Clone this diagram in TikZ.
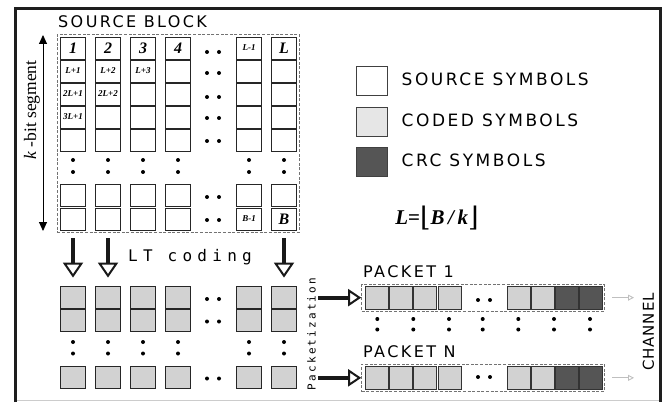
\documentclass[tikz,border=0pt]{standalone}
\usepackage{fontspec}
\newfontfamily\capsfont[LetterSpace=15]{DejaVu Sans}
\newfontfamily\chanfont[LetterSpace=6]{DejaVu Sans}
\newfontfamily\ltfont[LetterSpace=33]{DejaVu Sans Mono}
\newfontfamily\pkfont[LetterSpace=20]{DejaVu Sans Mono}
\newfontfamily\tnr{Liberation Serif}
\newfontfamily\brk{DejaVu Serif}
\usetikzlibrary{arrows.meta}
\definecolor{codedgray}{HTML}{D2D2D2}
\definecolor{leggray}{HTML}{E6E6E6}
\definecolor{crcgray}{HTML}{555555}
\definecolor{framecol}{HTML}{1E1E1E}
\begin{document}
\begin{tikzpicture}[x=1pt,y=-1pt,
  cellS/.style={draw=black!85, line width=0.8pt, fill=white, minimum width=24.5pt, minimum height=22pt, inner sep=0pt},
  cellC/.style={cellS, fill=codedgray},
  cellP/.style={draw=black!80, line width=0.8pt, fill=codedgray, minimum width=23pt, minimum height=23pt, inner sep=0pt},
  cellK/.style={cellP, fill=crcgray},
  dbox/.style={draw=black!55, dashed, dash pattern=on 3pt off 1.6pt, line width=1pt, inner sep=0pt},
  legbox/.style={draw=black!75, line width=0.7pt, minimum width=30.5pt, minimum height=29pt, inner sep=0pt},
  biglab/.style={font=\tnr\bfseries\itshape\fontsize{16}{18}\selectfont, inner sep=0pt},
  smlab/.style={font=\tnr\bfseries\itshape\fontsize{9}{10}\selectfont, inner sep=0pt},
  caps/.style={font=\capsfont\fontsize{16}{19}\selectfont, inner sep=0pt},
  legtxt/.style={font=\capsfont\fontsize{17}{20}\selectfont, inner sep=0pt, anchor=west},
  bigarrow/.style={line width=3.3pt, draw=black!90, -{Triangle[open, length=15pt, width=20pt, line width=2pt]}},
  sidearrow/.style={line width=3.8pt, draw=black!90, -{Triangle[open, length=13pt, width=17pt, line width=2pt]}},
  grayarrow/.style={line width=0.9pt, draw=black!25, -{Triangle[open, length=6pt, width=6pt, line width=0.9pt]}},
  dot/.style={fill=black}
]
\useasboundingbox (0,0) rectangle (668,403);
% frame
\draw[line width=0.8pt, draw=black!20] (15,400.5) -- (660,400.5);
\draw[line width=3pt, draw=framecol] (15,402) -- (15,8.5) -- (660,8.5) -- (660,402);

% source block
\node[caps, anchor=west] (srctitle) at (58,22) {SOURCE BLOCK};
\node[dbox, minimum width=241.7pt, minimum height=198pt] (srcbox) at (178.15,133.3) {};
\foreach \x [count=\i] in {73,108,143,178,249,284} {
  \foreach \y [count=\j] in {48,71,94,117,140,195.5,219} {
    \node[cellS] (s-\i-\j) at (\x,\y) {};
  }
  \fill[dot] (\x,160) circle (2pt);
  \fill[dot] (\x,172) circle (2pt);
}
\foreach \y in {52,73,97,118,141,197,220} {
  \fill[dot] (207,\y) circle (2pt);
  \fill[dot] (219,\y) circle (2pt);
}
\node[biglab] at (s-1-1) {1};
\node[biglab] at (s-2-1) {2};
\node[biglab] at (s-3-1) {3};
\node[biglab] at (s-4-1) {4};
\node[smlab] at (s-5-1) {L-1};
\node[biglab] at (s-6-1) {L};
\node[smlab] at (s-1-2) {L+1};
\node[smlab] at (s-2-2) {L+2};
\node[smlab] at (s-3-2) {L+3};
\node[smlab] at (s-1-3) {2L+1};
\node[smlab] at (s-2-3) {2L+2};
\node[smlab] at (s-1-4) {3L+1};
\node[smlab] at (s-5-7) {B-1};
\node[biglab] at (s-6-7) {B};

% k-bit segment
\coordinate (ktop) at (43,35);
\coordinate (kbot) at (43,231);
\draw[line width=0.9pt, {Triangle[length=9pt, width=8pt]}-{Triangle[length=9pt, width=8pt]}] (ktop) -- (kbot);
\node[rotate=90, font=\tnr\fontsize{17.5}{19}\selectfont, inner sep=0pt] (klabel) at (32,110) {{\itshape k} -bit segment};

% legend
\node[legbox, fill=white] (leg1) at (372,80.5) {};
\node[legbox, fill=leggray] (leg2) at (372,121.7) {};
\node[legbox, fill=crcgray] (leg3) at (372,162.3) {};
\node[legtxt] (legt1) at (401.5,79) {SOURCE SYMBOLS};
\node[legtxt] (legt2) at (401.5,120) {CODED SYMBOLS};
\node[legtxt] (legt3) at (401.5,160) {CRC SYMBOLS};
\node[font=\tnr\bfseries\itshape\fontsize{21}{23}\selectfont, inner sep=0pt] (formula) at (437,218)
  {L{\upshape=}{\brk\mdseries\upshape\fontsize{27}{28}\selectfont\raisebox{-1.5pt}{⌊}}B\,/\,k{\brk\mdseries\upshape\fontsize{27}{28}\selectfont\raisebox{-1.5pt}{⌋}}};

% coded symbols
\foreach \x [count=\i] in {73,108,143,178,249,284} {
  \node[cellC] (c-\i-1) at (\x,297) {};
  \node[cellC] (c-\i-2) at (\x,320.5) {};
  \node[cellC] (c-\i-3) at (\x,377) {};
  \fill[dot] (\x,342) circle (2pt);
  \fill[dot] (\x,353.5) circle (2pt);
}
\foreach \y in {299,321.5,378.5} {
  \fill[dot] (207,\y) circle (2pt);
  \fill[dot] (219,\y) circle (2pt);
}

% LT coding arrows
\draw[bigarrow, shorten <=8pt, shorten >=8pt] (s-1-7.south) -- (c-1-1.north);
\draw[bigarrow, shorten <=8pt, shorten >=8pt] (s-2-7.south) -- (c-2-1.north);
\draw[bigarrow, shorten <=8pt, shorten >=8pt] (s-6-7.south) -- (c-6-1.north);
\node[font=\ltfont\fontsize{16}{19}\selectfont, inner sep=0pt, anchor=west] (ltlabel) at (128,257) {LT coding};

% packetization
\node[rotate=90, font=\pkfont\fontsize{11}{13}\selectfont, inner sep=0pt] (pklabel) at (311.5,334) {Packetization};
\node[caps, anchor=west] (p1title) at (363,272) {PACKET 1};
\node[caps, anchor=west] (pntitle) at (363,352) {PACKET N};
\node[dbox, minimum width=242.3pt, minimum height=26.7pt] (p1box) at (482.85,297.65) {};
\node[dbox, minimum width=242.3pt, minimum height=27.7pt] (pnbox) at (482.85,377.85) {};
\foreach \x [count=\i] in {376.8,401,425.2,449.4} {
  \node[cellP] (p1-\i) at (\x,297.7) {};
  \node[cellP] (pn-\i) at (\x,377.8) {};
}
\foreach \x [count=\i from 5] in {518.7,542.6} {
  \node[cellP] (p1-\i) at (\x,297.7) {};
  \node[cellP] (pn-\i) at (\x,377.8) {};
}
\foreach \x [count=\i from 7] in {566.5,590.6} {
  \node[cellK] (p1-\i) at (\x,297.7) {};
  \node[cellK] (pn-\i) at (\x,377.8) {};
}
\fill[dot] (478,300) circle (2pt);
\fill[dot] (490,300) circle (2pt);
\fill[dot] (478,377) circle (2pt);
\fill[dot] (490,377) circle (2pt);
\foreach \x in {377.3,413.3,449,482.7,518.3,554,590} {
  \fill[dot] (\x,319) circle (2pt);
  \fill[dot] (\x,329.5) circle (2pt);
}
\coordinate (pa1) at (318,297.65);
\coordinate (pan) at (318,377.85);
\draw[sidearrow] (pa1) -- (p1box.west);
\draw[sidearrow] (pan) -- (pnbox.west);

% channel
\coordinate (ch1) at (634,297.65);
\coordinate (chn) at (634,377.85);
\draw[grayarrow, shorten <=7.5pt] (p1box.east) -- (ch1);
\draw[grayarrow, shorten <=7.5pt] (pnbox.east) -- (chn);
\node[rotate=90, font=\chanfont\fontsize{15}{18}\selectfont, inner sep=0pt] (chlabel) at (648.5,332) {CHANNEL};
\end{tikzpicture}
\end{document}
